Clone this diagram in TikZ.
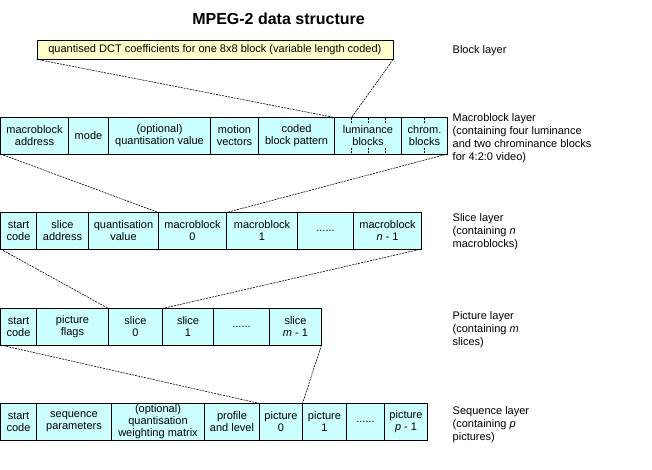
\documentclass[tikz,border=0pt]{standalone}
\usepackage{fontspec}
\setmainfont{Liberation Sans}
\usepackage{tikz}
\usetikzlibrary{positioning}
\definecolor{cellcyan}{HTML}{CCFFFF}
\definecolor{blockyellow}{HTML}{FFFFCC}

\begin{document}
\begin{tikzpicture}[x=1pt,y=-1pt,
  cell/.style={draw, fill=cellcyan, line width=0.8pt, outer sep=0pt, inner sep=0pt,
    minimum height=36.5pt, align=center, font=\fontsize{11}{12.5}\selectfont},
  layer/.style={anchor=north west, align=left, inner sep=0pt, font=\fontsize{11}{13}\selectfont},
  link/.style={dash pattern=on 2pt off 1pt, line width=0.6pt}]
\useasboundingbox (-0.5,-0.5) rectangle (651.5,468.5);

\node[font=\bfseries\fontsize{16}{19}\selectfont] (title) at (278,18) {MPEG-2 data structure};

\node[draw, fill=blockyellow, line width=0.8pt, anchor=north west, minimum width=356pt,
  minimum height=19pt, inner sep=0pt, font=\fontsize{11}{12.5}\selectfont] (block) at (36,39)
  {quantised DCT coefficients for one 8x8 block (variable length coded)};

% macroblock layer
\node[cell, minimum width=68pt, anchor=north west] (mbaddr) at (0,117) {macroblock\\address};
\node[cell, minimum width=40pt, right=0pt of mbaddr] (mbmode) {mode};
\node[cell, minimum width=102pt, right=0pt of mbmode] (mbquant) {(optional)\\quantisation value};
\node[cell, minimum width=48pt, right=0pt of mbquant] (mbmotion) {motion\\vectors};
\node[cell, minimum width=76pt, right=0pt of mbmotion] (mbcbp) {coded\\block pattern};
\node[cell, minimum width=67pt, right=0pt of mbcbp] (mblum) {luminance\\blocks};
\node[cell, minimum width=46pt, right=0pt of mblum] (mbchrom) {chrom.\\blocks};
\coordinate (lumfirst) at (351,117);
\foreach \x in {351,368,385,424}
  \draw[link] (\x,117) -- (\x,123) (\x,147) -- (\x,153.5);

% slice layer
\node[cell, minimum width=36pt, anchor=north west] (slstart) at (0,212) {start\\code};
\node[cell, minimum width=52pt, right=0pt of slstart] (sladdr) {slice\\address};
\node[cell, minimum width=70pt, right=0pt of sladdr] (slquant) {quantisation\\value};
\node[cell, minimum width=68pt, right=0pt of slquant] (slmb0) {macroblock\\0};
\node[cell, minimum width=71pt, right=0pt of slmb0] (slmb1) {macroblock\\1};
\node[cell, minimum width=56pt, right=0pt of slmb1] (sldots) {......};
\node[cell, minimum width=68pt, right=0pt of sldots] (slmbn) {macroblock\\\textit{n} - 1};

% picture layer
\node[cell, minimum width=36pt, anchor=north west] (picstart) at (0,308) {start\\code};
\node[cell, minimum width=72pt, right=0pt of picstart] (picflags) {picture\\flags};
\node[cell, minimum width=54pt, right=0pt of picflags] (picsl0) {slice\\0};
\node[cell, minimum width=51pt, right=0pt of picsl0] (picsl1) {slice\\1};
\node[cell, minimum width=56pt, right=0pt of picsl1] (picdots) {......};
\node[cell, minimum width=52pt, right=0pt of picdots] (picslm) {slice\\\textit{m} - 1};

% sequence layer
\node[cell, minimum width=36pt, anchor=north west] (seqstart) at (0,403) {start\\code};
\node[cell, minimum width=75pt, right=0pt of seqstart] (seqparams) {sequence\\parameters};
\node[cell, minimum width=93pt, right=0pt of seqparams, font=\fontsize{11}{12}\selectfont] (seqquant) {(optional)\\quantisation\\weighting matrix};
\node[cell, minimum width=55pt, right=0pt of seqquant] (seqprofile) {profile\\and level};
\node[cell, minimum width=43pt, right=0pt of seqprofile] (seqpic0) {picture\\0};
\node[cell, minimum width=44pt, right=0pt of seqpic0] (seqpic1) {picture\\1};
\node[cell, minimum width=38pt, right=0pt of seqpic1] (seqdots) {......};
\node[cell, minimum width=43pt, right=0pt of seqdots] (seqpicp) {picture\\\textit{p} - 1};

% links between layers
\draw[link] (block.south west) -- (mblum.north west);
\draw[link] (block.south east) -- (lumfirst);
\draw[link] (mbaddr.south west) -- (slmb0.north west);
\draw[link] (mbchrom.south east) -- (slmb1.north west);
\draw[link] (slstart.south west) -- (picsl0.north west);
\draw[link] (slmbn.south east) -- (picsl1.north west);
\draw[link] (picstart.south west) -- (seqpic0.north west);
\draw[link] (picslm.south east) -- (seqpic1.north west);

% layer names
\node[layer] (blocklayer) at (452,45) {Block layer};
\node[layer] (mblayer) at (452,112.5) {Macroblock layer\\(containing four luminance\\and two chrominance blocks\\for 4:2:0 video)};
\node[layer] (sllayer) at (452,212.5) {Slice layer\\(containing \textit{n}\\macroblocks)};
\node[layer] (piclayer) at (452,311) {Picture layer\\(containing \textit{m}\\slices)};
\node[layer] (seqlayer) at (452,406) {Sequence layer\\(containing \textit{p}\\pictures)};
\end{tikzpicture}
\end{document}
